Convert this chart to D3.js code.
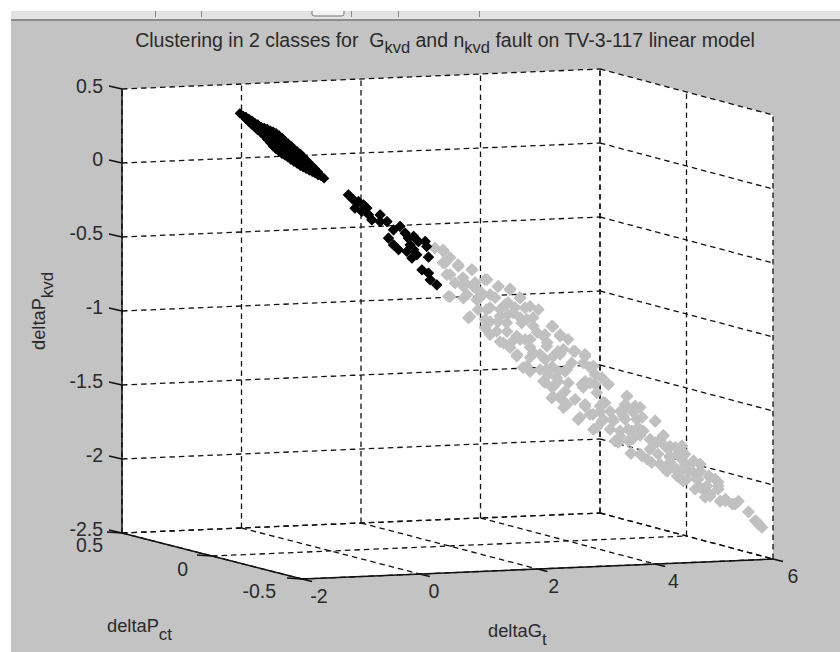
<!DOCTYPE html>
<html><head><meta charset="utf-8">
<script src="https://cdn.jsdelivr.net/npm/d3@7"></script>
<style>html,body{margin:0;padding:0;background:#fff}svg{display:block}text{font-family:"Liberation Sans",Arial,sans-serif;fill:#2a2a2a}</style>
</head><body><svg id="c" width="840" height="652"></svg>
<script>
const xTicks=[-2,0,2,4,6], yTicks=[0.5,0,-0.5], zTicks=[0.5,0,-0.5,-1,-1.5,-2,-2.5];
const titleParts=[["Clustering in 2 classes for  G",0],["kvd",1],[" and n",0],["kvd",1],[" fault on TV-3-117 linear model",0]];
// [deltaG_t, deltaP_kvd]; deltaP_ct given per group
const denseDepth=0, sparseDepth=0, grayDepth=-0.45;
const blackDense=[[-1.53,.483],[-1.43,.457],[-1.43,.443],[-1.33,.431],[-1.33,.417],[-1.33,.403],[-1.23,.404],[-1.23,.384],[-1.23,.364],[-1.12,.378],[-1.12,.351],[-1.12,.324],[-1.02,.359],[-1.02,.338],[-1.02,.318],[-1.02,.298],[-1.02,.277],[-.92,.339],[-.92,.312],[-.92,.285],[-.92,.258],[-.92,.231],[-.82,.305],[-.82,.278],[-.82,.251],[-.82,.224],[-.82,.197],[-.72,.266],[-.72,.243],[-.72,.219],[-.72,.195],[-.72,.172],[-.62,.229],[-.62,.207],[-.62,.185],[-.62,.163],[-.62,.141],[-.51,.193],[-.51,.172],[-.51,.152],[-.51,.132],[-.51,.111],[-.41,.149],[-.41,.119],[-.41,.089],[-.31,.106],[-.31,.086],[-.31,.066],[-.21,.063],[-.21,.053],[-.21,.043],[-.11,.020]];
const blackDenseFill=[[-1.48,.467],[-1.38,.444],[-1.38,.424],[-1.28,.415],[-1.28,.400],[-1.28,.385],[-1.175,.387],[-1.175,.367],[-1.175,.347],[-1.07,.37],[-1.07,.352],[-1.07,.335],[-1.07,.318],[-1.07,.30],[-.97,.35],[-.97,.325],[-.97,.30],[-.97,.275],[-.97,.25],[-.87,.323],[-.87,.295],[-.87,.268],[-.87,.241],[-.87,.213],[-.77,.285],[-.77,.26],[-.77,.235],[-.77,.21],[-.77,.185],[-.67,.249],[-.67,.225],[-.67,.202],[-.67,.179],[-.67,.155],[-.565,.21],[-.565,.189],[-.565,.168],[-.565,.147],[-.565,.126],[-.46,.17],[-.46,.135],[-.46,.10],[-.36,.127],[-.36,.102],[-.36,.077],[-.26,.085],[-.26,.07],[-.26,.055],[-.16,.036]];
const blackSparse=[[.30,-.099],[.385,-.134],[.47,-.147],[.41,-.191],[.526,-.215],[.554,-.170],[.61,-.194],[.64,-.239],[.695,-.274],[.835,-.243],[.835,-.288],[.95,-.290],[1.06,-.348],[1.17,-.327],[1.257,-.374],[.976,-.403],[1.06,-.449],[1.145,-.484],[1.31,-.408],[1.34,-.454],[1.285,-.498],[1.37,-.544],[1.454,-.523],[1.48,-.434],[1.595,-.435],[1.62,-.470],[1.65,-.542],[1.54,-.626],[1.65,-.650],[1.68,-.696],[1.79,-.732],[1.40,-.398],[1.40,-.488]];
const grayUpper=[[.41,-.320],[.552,-.345],[.58,-.424],[.807,-.450],[1.033,-.476],[.609,-.503],[.75,-.562],[.892,-.587],[1.062,-.590],[1.26,-.548],[1.486,-.596],[1.203,-.637],[.637,-.650],[.892,-.666],[1.118,-.681],[1.345,-.650],[1.684,-.618],[1.854,-.681],[2.165,-.765],[1.6,-.722],[.977,-.802],[1.288,-.751],[1.514,-.800],[1.74,-.781],[1.938,-.750],[1.26,-.874],[1.458,-.900],[1.628,-.846],[1.882,-.851],[2.08,-.876],[2.392,-.881],[1.571,-.981],[1.797,-.939],[2.024,-.965],[2.25,-.947],[2.533,-.951],[1.797,-1.074],[2.08,-1.056],[2.307,-1.015],[2.59,-1.042],[1.967,-1.145],[2.307,-1.173],[2.647,-1.178],[2.42,-1.084]];
const grayLower=[[2.533,-1.075],[2.76,-1.056],[2.957,-1.082],[2.731,-1.135],[2.929,-1.138],[3.099,-1.163],[2.618,-1.189],[2.477,-1.232],[2.25,-1.251],[2.674,-1.269],[2.42,-1.287],[2.9,-1.284],[3.042,-1.275],[3.241,-1.244],[3.354,-1.291],[3.156,-1.344],[2.561,-1.380],[2.392,-1.366],[2.59,-1.436],[2.957,-1.420],[3.297,-1.414],[3.212,-1.435],[3.665,-1.375],[3.637,-1.453],[3.806,-1.445],[2.844,-1.519],[3.042,-1.489],[3.099,-1.591],[3.269,-1.526],[3.439,-1.540],[3.608,-1.509],[3.835,-1.535],[4.147,-1.551],[3.552,-1.609],[3.75,-1.613],[3.948,-1.616],[4.287,-1.651],[3.467,-1.676],[3.693,-1.679],[4.147,-1.698],[4.6,-1.728],[4.344,-1.735],[3.92,-1.784],[3.733,-1.763],[4.09,-1.832],[4.4,-1.803],[4.57,-1.806],[4.797,-1.832],[4.91,-1.857],[4.316,-1.881],[4.514,-1.884],[4.712,-1.898],[4.57,-1.941],[4.853,-1.957],[5.051,-1.938],[5.22,-2.008],[5.079,-2.062],[4.91,-2.014],[5.335,-2.111],[5.505,-2.136],[5.73,-2.192],[5.844,-2.254],[5.9,-2.278],[5.957,-2.301],[4.684,-1.954],[5.023,-2.005]];
const grayExtra=[[.547,-.334],[.547,-.421],[.802,-.439],[1.04,-.477],[.666,-.504],[.886,-.528],[1.294,-.548],[1.48,-.599],[1.124,-.613],[.666,-.653],[.954,-.644],[1.175,-.668],[1.684,-.622],[1.345,-.738],[1.005,-.794],[1.65,-.709],[1.854,-.679],[2.024,-.742],[1.26,-.818],[1.48,-.835],[1.854,-.814],[1.345,-.921],[2.075,-.818],[1.633,-.905],[1.514,-.971],[1.854,-.963],[2.143,-.920],[2.414,-.884],[2.533,-.940],[2.669,-.976],[2.313,-.990],[2.024,-1.019],[1.803,-1.063],[2.194,-1.069],[2.499,-1.054],[2.788,-1.059],[2.958,-1.095],[1.905,-1.153],[2.194,-1.171],[2.397,-1.154],[2.618,-1.191],[2.278,-1.260],[2.499,-1.257],[2.414,-1.357],[2.618,-1.326],[2.652,-1.415],[2.958,-1.264],[3.127,-1.220],[2.958,-1.433],[2.873,-1.506],[3.094,-1.489],[2.924,-1.304],[3.127,-1.287],[3.348,-1.291],[3.263,-1.411],[3.67,-1.377],[2.839,-1.519],[3.246,-1.539],[3.161,-1.578],[3.553,-1.476],[3.774,-1.487],[3.433,-1.529],[3.927,-1.523],[4.148,-1.554],[3.687,-1.600],[3.857,-1.589],[3.553,-1.645],[3.52,-1.685],[3.757,-1.669],[3.74,-1.763],[4.06,-1.741],[4.283,-1.657],[4.181,-1.696],[4.4,-1.727],[4.011,-1.808],[4.198,-1.777],[4.4,-1.835],[4.536,-1.783],[4.35,-1.895],[4.52,-1.931],[4.315,-1.725],[4.604,-1.730],[4.4,-1.794],[4.655,-1.785],[4.315,-1.867],[4.791,-1.841],[4.91,-1.856],[4.57,-1.905],[4.791,-1.909],[4.621,-1.967],[4.876,-1.957],[5.08,-1.947],[5.216,-1.983],[4.961,-2.026],[5.216,-2.030],[5.08,-2.075],[5.339,-2.100],[5.458,-2.135],[5.56,-2.117],[5.879,-2.264]];
const grayBlobs=[[.666,-.389],[.92,-.562],[1.09,-.565],[1.43,-.672],[1.515,-.754],[1.14,-.748],[1.345,-.833],[1.65,-.790],[1.77,-.745],[1.97,-.829],[1.718,-.974],[1.94,-.964],[2.278,-.936],[2.024,-1.087],[1.684,-1.014],[2.278,-1.105],[2.024,-1.182],[2.33,-1.207],[2.499,-1.189],[2.397,-1.296],[2.533,-1.359],[2.788,-1.383],[3.042,-1.171],[3.382,-1.474],[3.637,-1.430],[3.892,-1.455],[3.212,-1.471],[3.382,-1.595],[3.637,-1.532],[3.892,-1.644],[4.06,-1.674],[3.892,-1.772],[4.23,-1.845],[4.486,-1.883],[4.655,-1.852],[4.825,-2.024],[4.995,-2.081],[5.165,-1.962],[5.25,-2.112],[4.91,-1.904],[4.486,-1.735]];

const svg=d3.select("#c");
const sx=d3.scaleLinear().domain([-2,6]).range([0,1]);
const sy=d3.scaleLinear().domain([.5,-.5]).range([0,1]);
const sz=d3.scaleLinear().domain([-2.5,.5]).range([0,-444]);
const xLeft=d3.scaleLinear().domain([0,1]).range([122,600]), yLeft=d3.scaleLinear().domain([0,1]).range([533,513]);
const xRight=d3.scaleLinear().domain([0,1]).range([302,773]), yRight=d3.scaleLinear().domain([0,1]).range([579,559]);
function P(x,y,z){const u=sx(x),v=sy(y),a=[xLeft(u),yLeft(u)],b=[xRight(u),yRight(u)];
 return [a[0]+(b[0]-a[0])*v, a[1]+(b[1]-a[1])*v+sz(z)];}
const lineGen=d3.line();
// window chrome
svg.append("rect").attr("x",11).attr("y",11).attr("width",829).attr("height",641).attr("fill","#c3c3c3");
svg.append("rect").attr("x",11).attr("y",11).attr("width",829).attr("height",8).attr("fill","#e2e2e2");
svg.append("rect").attr("x",11).attr("y",19).attr("width",829).attr("height",2).attr("fill","#8c8c8c");
[155,201,351,398,479].forEach(x=>svg.append("line").attr("x1",x+.5).attr("x2",x+.5).attr("y1",11).attr("y2",17).attr("stroke","#888"));
svg.append("path").attr("d","M312,11V14Q312,16 315,16H341Q344,16 344,14V11").attr("fill","#f4f4f4").attr("stroke","#777");
// walls
const outline=[P(-2,.5,.5),P(6,.5,.5),P(6,-.5,.5),P(6,-.5,-2.5),P(-2,-.5,-2.5),P(-2,.5,-2.5)];
svg.append("path").attr("d",lineGen(outline)+"Z").attr("fill","#fff");
const dash=(a,b)=>svg.append("path").attr("d",lineGen([a,b])).attr("fill","none").attr("stroke","#111").attr("stroke-width",1.3).attr("stroke-dasharray","5.5 4");
zTicks.forEach(z=>{dash(P(-2,.5,z),P(6,.5,z));dash(P(6,.5,z),P(6,-.5,z));});
xTicks.forEach(x=>{dash(P(x,.5,-2.5),P(x,.5,.5));dash(P(x,.5,-2.5),P(x,-.5,-2.5));});
yTicks.forEach(y=>{dash(P(6,y,-2.5),P(6,y,.5));dash(P(-2,y,-2.5),P(6,y,-2.5));});
// solid axes
const solid=(a,b,w=1.5)=>svg.append("path").attr("d",lineGen([a,b])).attr("stroke","#111").attr("stroke-width",w).attr("fill","none");
solid(P(-2,.5,-2.5),P(-2,.5,.5));
solid(P(-2,.5,-2.5),P(-2,-.5,-2.5));
solid(P(-2,-.5,-2.5),P(6,-.5,-2.5));
// ticks and labels
const FS=19.5;
const label=(t,x,y,anchor)=>svg.append("text").attr("x",x).attr("y",y).attr("text-anchor",anchor).attr("font-size",FS).text(t);
zTicks.forEach(z=>{const p=P(-2,.5,z);solid(p,[p[0]-13,p[1]-3]);label(z,103,p[1]+(z===.5?4:2.5),"end");});
yTicks.forEach(y=>{const p=P(-2,y,-2.5);solid(p,[p[0]-15,p[1]-1]);});
xTicks.forEach(x=>{const p=P(x,-.5,-2.5);solid(p,[p[0]+10,p[1]+2.5]);});
const yLabRight=d3.scaleOrdinal().domain(yTicks).range([103,188,276]), yLabBase=d3.scaleOrdinal().domain(yTicks).range([552,576,598]);
yTicks.forEach(y=>label(y,yLabRight(y),yLabBase(y),"end"));
const xLabCenter=d3.scaleLinear().domain([0,6]).range([434,793]);
xTicks.forEach(x=>{const p=P(x,-.5,-2.5);label(x,xLabCenter(x)+(x<0?4.7:0),p[1]+24,"middle");});
// title
const tt=svg.append("text").attr("x",445).attr("y",47).attr("text-anchor","middle").attr("font-size",19.5).style("white-space","pre");
titleParts.forEach(([s,sub],i)=>{const ts=tt.append("tspan").text(s).attr("font-size",sub?16.5:19.5);
 ts.attr("dy",sub?6:(i?-6:0));});
function sublabel(x,y,a,b,rot){const t=svg.append("text").attr("font-size",18.3).attr("transform",`translate(${x},${y})`+(rot?` rotate(${rot})`:""));
 t.append("tspan").text(a);t.append("tspan").text(b).attr("font-size",17).attr("dy",8);}
sublabel(45,350,"deltaP","kvd",-90);
sublabel(107,632,"deltaP","ct");
sublabel(488,637,"deltaG","t");
// points
const symbol=(size)=>d3.symbol(d3.symbolSquare).size(size)();
function scatter(data,depth,size,fill){svg.append("g").selectAll("path").data(data).join("path").attr("d",symbol(size))
 .attr("transform",d=>{const p=P(d[0],depth,d[1]);return `translate(${p[0]},${p[1]}) rotate(45)`;}).attr("fill",fill).attr("stroke",fill).attr("stroke-width",1).attr("stroke-linejoin","round");}
scatter(grayUpper.concat(grayLower,grayExtra,grayBlobs),grayDepth,66,"#c0c0c0");
scatter(blackDense.concat(blackDenseFill),denseDepth,40,"#000");
scatter(blackSparse,sparseDepth,50,"#000");
</script></body></html>
